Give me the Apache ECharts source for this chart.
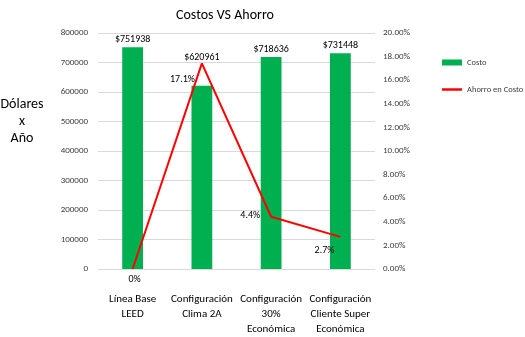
<!DOCTYPE html>
<html><head><meta charset="utf-8">
<script src="https://cdn.jsdelivr.net/npm/echarts@6/dist/echarts.min.js"></script>
<style>html,body{margin:0;padding:0;background:#fff}#c{width:525px;height:337px}</style>
</head><body><div id="c"></div>
<script>
const categories = ['Línea Base\nLEED', 'Configuración\nClima 2A', 'Configuración\n30%\nEconómica', 'Configuración\nCliente Super\nEconómica'];
const costs = [751938, 620961, 718636, 731448];
const savings = [0, 0.1742, 0.0443, 0.0272];
const savingLabels = ['0%', '17.1%', '4.4%', '2.7%'];
const leftTicks = [0, 100000, 200000, 300000, 400000, 500000, 600000, 700000, 800000];

const chart = echarts.init(document.getElementById('c'));
const font = 'Carlito, Calibri, "Liberation Sans", sans-serif';
const labelPos = [
  {position: 'bottom', distance: 5, offset: [2, 0]},
  {position: 'left', distance: 7, offset: [0, 16]},
  {position: 'left', distance: 11, offset: [0, -1]},
  {position: 'left', distance: 6, offset: [0, 14]}
];
const barLabelOffsets = [[0, 0], [0, -20], [0, 0], [0, 0]];
chart.setOption({
  animation: false,
  textStyle: {fontFamily: font},
  title: {text: 'Costos VS Ahorro', left: 220, textAlign: 'center', top: 3,
    textStyle: {fontSize: 14, fontWeight: 'normal', color: '#000', fontFamily: font}},
  graphic: [{type: 'text', x: 22, y: 96, style: {text: 'Dólares\nx\nAño', font: '14px ' + font, fill: '#000', align: 'center', textAlign: 'center', lineHeight: 17}}],
  legend: {
    orient: 'vertical', left: 437, top: 53, itemGap: 18, itemWidth: 20, itemHeight: 6,
    textStyle: {fontSize: 8.5, color: '#404040', fontFamily: font},
    data: [{name: 'Costo', icon: 'rect'}, {name: 'Ahorro en Costo', icon: 'path://M0,0L20,0L20,2.5L0,2.5Z'}]
  },
  grid: {left: 98, right: 150, top: 33, bottom: 67},
  xAxis: {
    type: 'category', data: categories,
    axisLine: {show: false}, axisTick: {show: false},
    axisLabel: {fontSize: 11, color: '#000', margin: 23, lineHeight: 15, interval: 0, fontFamily: font}
  },
  yAxis: [{
    type: 'value', min: 0, max: 800000, interval: 100000,
    axisLabel: {fontSize: 9, color: '#404040', margin: 10, fontFamily: font,
      formatter: v => leftTicks.includes(v) ? String(v) : ''},
    splitLine: {lineStyle: {color: '#d9d9d9'}}
  }, {
    type: 'value', min: 0, max: 0.2, interval: 0.02,
    axisLabel: {fontSize: 9, color: '#404040', margin: 8, fontFamily: font,
      formatter: v => (v * 100).toFixed(2) + '%'},
    splitLine: {show: false}
  }],
  series: [{
    name: 'Costo', type: 'bar', barWidth: '30%',
    itemStyle: {color: '#00B050'},
    label: {show: true, position: 'top', distance: 3, fontSize: 10, color: '#000', fontFamily: font,
      formatter: p => '$' + p.value},
    data: costs.map((v, i) => ({value: v, label: {offset: barLabelOffsets[i]}}))
  }, {
    name: 'Ahorro en Costo', type: 'line', yAxisIndex: 1, symbol: 'circle', symbolSize: 0.01, showSymbol: true,
    lineStyle: {color: '#FF0000', width: 2}, itemStyle: {color: '#FF0000'},
    label: {show: true, fontSize: 10, color: '#000', fontFamily: font,
      formatter: p => savingLabels[p.dataIndex]},
    data: savings.map((v, i) => ({value: v, label: labelPos[i]}))
  }]
});
</script></body></html>
